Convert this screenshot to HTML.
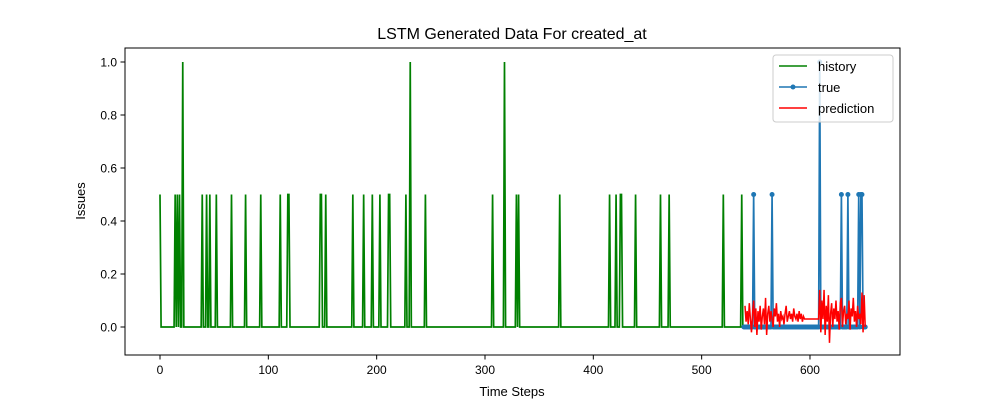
<!DOCTYPE html>
<html><head><meta charset="utf-8"><style>
body{margin:0;background:#fff}
svg{font-family:"Liberation Sans","DejaVu Sans",sans-serif}
</style></head><body>
<svg id="chart" width="1000" height="400">
<rect width="1000" height="400" fill="#fff"/>
<text x="512" y="39" text-anchor="middle" font-size="16">LSTM Generated Data For created_at</text>
<text x="512" y="396" text-anchor="middle" font-size="13">Time Steps</text>
<text transform="translate(85,201) rotate(-90)" text-anchor="middle" font-size="13">Issues</text>
<g id="plot"></g>
<rect x="125" y="48" width="775" height="307" fill="none" stroke="#000" stroke-width="1"/>
<g>
<rect x="773" y="55" width="120" height="67" rx="3" fill="#fff" fill-opacity="0.8" stroke="#ccc"/>
<g><line x1="779" y1="66" x2="807" y2="66" stroke="green" stroke-width="1.5"/><text x="818" y="71" font-size="13">history</text></g>
<g><line x1="779" y1="87" x2="807" y2="87" stroke="#1f77b4" stroke-width="1.5"/><circle cx="793" cy="87" r="2.5" fill="#1f77b4"/><text x="818" y="92" font-size="13">true</text></g>
<g><line x1="779" y1="108" x2="807" y2="108" stroke="red" stroke-width="1.5"/><text x="818" y="113" font-size="13">prediction</text></g>
</g>
</svg>
<script>
const xTicks=[0,100,200,300,400,500,600];
const yTicks=[0.0,0.2,0.4,0.6,0.8,1.0];
const histEnd=538;
const histSpikeT=[0,14,16,18,21,39,43,46,52,66,79,93,111,118,119,148,149,153,178,188,196,203,211,212,227,231,245,307,318,329,331,369,415,421,425,426,439,462,470,520,537];
const histSpikeV=[0.5,0.5,0.5,0.5,1.0,0.5,0.5,0.5,0.5,0.5,0.5,0.5,0.5,0.5,0.5,0.5,0.5,0.5,0.5,0.5,0.5,0.5,0.5,0.5,0.5,1.0,0.5,0.5,1.0,0.5,0.5,0.5,0.5,0.5,0.5,0.5,0.5,0.5,0.5,0.5,0.5];
const trueStart=539, trueEnd=651;
const trueSpikeT=[548,565,609,629,635,645,647,648];
const trueSpikeV=[0.5,0.5,1.0,0.5,0.5,0.5,0.5,0.5];
const predStart=540;
const predY=[0.08,0.02,0.06,0.01,0.09,0.03,-0.02,0.05,0.1,0.0,0.07,-0.03,0.06,0.02,0.08,-0.01,0.04,0.07,0.01,0.11,-0.03,0.05,0.08,0.02,0.06,0.03,0.0,0.07,0.04,0.09,0.02,0.05,0.0,0.06,0.03,0.04,0.01,0.05,0.08,0.02,0.04,0.06,0.03,0.05,0.02,0.07,0.04,0.03,0.05,0.02,0.06,0.03,0.05,0.02,0.04,
0.03,0.03,0.03,0.03,0.03,0.03,0.03,0.03,0.03,0.03,0.03,0.03,0.03,0.03,
0.14,-0.02,0.1,0.03,0.14,-0.03,0.08,0.02,0.12,-0.06,0.05,0.09,0.0,0.07,0.03,0.1,0.02,0.06,-0.01,0.09,0.11,0.0,0.06,0.08,0.01,0.05,0.03,0.1,-0.01,0.07,0.04,0.11,0.02,0.06,0.0,0.08,0.03,0.05,0.01,0.13,-0.02,0.12,0.0];
const X=t=>160+t*1.0833, Y=v=>327-v*265;
const NS='http://www.w3.org/2000/svg';
const svg=document.getElementById('chart'), plot=document.getElementById('plot');
function mk(tag,attrs,parent){const e=document.createElementNS(NS,tag);for(const k in attrs)e.setAttribute(k,attrs[k]);(parent||svg).appendChild(e);return e;}
xTicks.forEach(t=>{const g=mk('g',{});


mk('line',{x1:X(t),x2:X(t),y1:355,y2:359.5,stroke:'#000'},g);
const tx=mk('text',{x:X(t),y:374,'text-anchor':'middle','font-size':'12'},g);tx.textContent=t;});
yTicks.forEach(v=>{const g=mk('g',{});


mk('line',{x1:120.5,x2:125,y1:Y(v),y2:Y(v),stroke:'#000'},g);
const tx=mk('text',{x:117,y:Y(v)+4.5,'text-anchor':'end','font-size':'12'},g);tx.textContent=v.toFixed(1);});
const hist=new Array(histEnd+1).fill(0);
histSpikeT.forEach((t,i)=>hist[t]=histSpikeV[i]);
const hp=mk('polyline',{points:hist.map((v,t)=>X(t)+','+Y(v)).join(' '),fill:'none',stroke:'green','stroke-width':1.7},plot);


const tv=[];for(let t=trueStart;t<=trueEnd;t++)tv.push([t,0]);
trueSpikeT.forEach((t,i)=>{tv[t-trueStart][1]=trueSpikeV[i];});
const tp=mk('polyline',{points:tv.map(p=>X(p[0])+','+Y(p[1])).join(' '),fill:'none',stroke:'#1f77b4','stroke-width':1.7},plot);


const tm=mk('g',{fill:'#1f77b4'},plot);


tv.forEach(p=>mk('circle',{cx:X(p[0]),cy:Y(p[1]),r:2.5},tm));
const pp=mk('polyline',{points:predY.map((v,i)=>X(predStart+i)+','+Y(v)).join(' '),fill:'none',stroke:'red','stroke-width':1.5},plot);


</script>
</body></html>
